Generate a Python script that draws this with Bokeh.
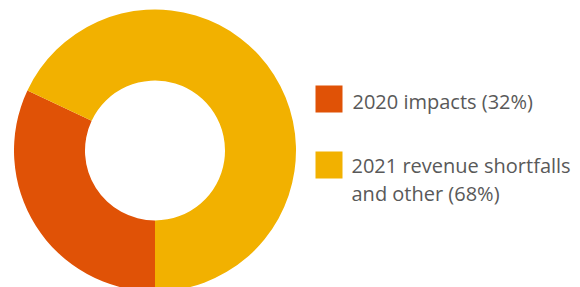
import math
from bokeh.plotting import figure
from bokeh.models import Range1d, ColumnDataSource
from bokeh.core.properties import value
from bokeh.embed import file_html
from bokeh.resources import INLINE

labels = ["2020 impacts (32%)", "2021 revenue shortfalls", "and other (68%)"]
values = [32, 68]
colors = ["#E05206", "#F2B100"]

W, H = 580, 287
p = figure(width=W, height=H, output_backend="svg", toolbar_location=None,
           x_range=Range1d(0, W), y_range=Range1d(0, H), min_border=0)
p.axis.visible = False
p.grid.visible = False
p.outline_line_color = None
p.background_fill_color = "white"

# slices go clockwise starting at 6 o'clock
total = sum(values)
starts, ends = [], []
cur = -90.0
for v in values:
    sweep = 360.0 * v / total
    ends.append(math.radians(cur))
    starts.append(math.radians(cur - sweep))
    cur -= sweep

cx, cy = 154.5, 137
src = ColumnDataSource(dict(start=starts, end=ends, color=colors))
p.annular_wedge(x=cx, y=cy, inner_radius=70, outer_radius=141,
                inner_radius_units="screen", outer_radius_units="screen",
                start_angle="start", end_angle="end", direction="anticlock",
                color="color", line_color=None, source=src)

# legend
lx = [328.5, 328.5]
ly = [188.5, 122.5]
p.rect(x=lx, y=ly, width=27, height=27, width_units="screen", height_units="screen",
       fill_color=colors, line_color=None)
tx = [352, 351, 351]
ty = [186, 122, 94]
p.text(x=tx, y=ty, text=labels, text_font=value("Open Sans"), text_font_size="20px",
       text_color="#595959", text_baseline="alphabetic", text_align="left")

open("out.html", "w").write(file_html(p, INLINE))
